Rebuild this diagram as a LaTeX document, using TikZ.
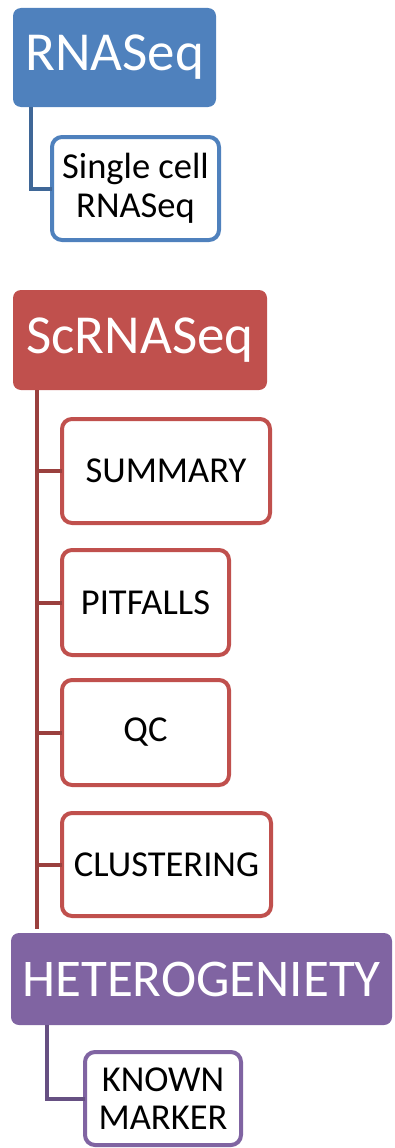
\documentclass[tikz,border=0pt]{standalone}
\usepackage{fontspec}
\setmainfont{Carlito}
\usepackage{tikz}
\definecolor{rnablue}{HTML}{4F81BD}
\definecolor{scred}{HTML}{C0504D}
\definecolor{hetpurple}{HTML}{8064A2}

\begin{document}
\begin{tikzpicture}[x=1pt, y=-1pt,
  head/.style = {fill=#1, text=white, rounded corners=8pt,
    font=\fontsize{55}{60}\selectfont, inner sep=0pt, outer sep=0pt, anchor=north west},
  leaf/.style = {draw=#1, line width=4pt, fill=white, rounded corners=10pt,
    font=\fontsize{36.5}{38.5}\selectfont, align=center, inner sep=0pt, outer sep=0pt, anchor=north west},
  link/.style = {draw=#1!80!black, line width=4pt}]
\useasboundingbox (0,0) rectangle (394,1148);

\node[head=rnablue, minimum width=203pt, minimum height=99pt] (rna) at (13,8) {RNASeq};
\node[leaf=rnablue, minimum width=167pt, minimum height=103pt] (single) at (52,137) {Single cell\\RNASeq};
\draw[link=rnablue] ([xshift=18pt]rna.south west) |- (single.west);

\node[head=scred, minimum width=254pt, minimum height=100pt] (sc) at (13,290) {ScRNASeq};
\node[leaf=scred, minimum width=208pt, minimum height=104pt] (sum) at (62,419) {SUMMARY};
\node[leaf=scred, minimum width=167pt, minimum height=105pt] (pit) at (62,550) {PITFALLS};
\node[leaf=scred, minimum width=167pt, minimum height=105pt] (qc) at (62,680) {QC};
\node[leaf=scred, minimum width=209pt, minimum height=103pt] (clu) at (62,813) {CLUSTERING};
\coordinate (scend) at (37,929);
\draw[link=scred] ([xshift=24pt]sc.south west) -- (scend);
\foreach \leafname in {sum,pit,qc,clu}
  \draw[link=scred] (scend |- \leafname.west) -- (\leafname.west);

\node[head=hetpurple, font=\fontsize{53}{60}\selectfont, minimum width=381pt, minimum height=92pt] (het) at (11,933) {HETEROGENIETY};
\node[leaf=hetpurple, minimum width=156pt, minimum height=93pt] (known) at (85,1052) {KNOWN\\MARKER};
\draw[link=hetpurple] ([xshift=36pt]het.south west) |- (known.west);

\end{tikzpicture}
\end{document}
